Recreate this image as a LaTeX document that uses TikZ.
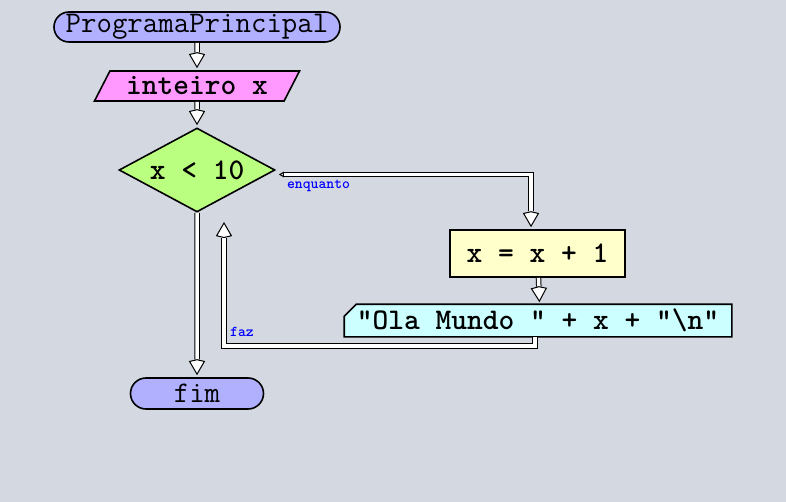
\documentclass[tikz,border=0pt]{standalone}
\usepackage{fontspec}
\usetikzlibrary{shapes.geometric, shapes.misc, arrows.meta, calc, backgrounds}

\definecolor{bg}{RGB}{212,216,224}
\definecolor{lavender}{RGB}{176,176,255}
\definecolor{pink}{RGB}{255,153,255}
\definecolor{lime}{RGB}{187,255,128}
\definecolor{cream}{RGB}{255,255,204}
\definecolor{aqua}{RGB}{204,255,255}
\definecolor{labelblue}{RGB}{0,0,255}

\tikzset{
	base/.style = {draw, line width = 1.6pt, inner sep = 0pt,
		font = \ttfamily\bfseries\fontsize{30}{34}\selectfont},
	terminal/.style = {base, rounded rectangle, fill = lavender,
		font = \ttfamily\fontsize{30}{34}\selectfont},
	decl/.style = {base, trapezium, trapezium left angle = 50, trapezium right angle = 130,
		trapezium stretches body, fill = pink},
	cond/.style = {base, diamond, aspect = 1.86, fill = lime},
	proc/.style = {base, rectangle, fill = cream},
	output/.style = {base, rectangle, draw = none},
	flow/.style = {double = white, double distance = 3.5pt, line width = 1pt, ->,
		shorten > = 2pt},
	>={Stealth[open, fill = white, length = 14pt, width = 16pt, inset = -2pt]},
	flowlabel/.style = {text = labelblue, inner sep = 0pt,
		font = \ttfamily\bfseries\fontsize{15}{17}\selectfont}
}

\begin{document}
\begin{tikzpicture}[x = 1pt, y = -1pt]
	\node [terminal, minimum width = 286pt, minimum height = 30pt] (prog) at (197,27) {ProgramaPrincipal};
	\node [decl, minimum width = 205pt, minimum height = 30pt] (var x) at (197,86) {inteiro x};
	\node [cond, minimum width = 156pt, minimum height = 84pt] (test) at (197,170) {x < 10};
	\node [proc, minimum width = 175pt, minimum height = 47pt] (incr) at (537.5,253.5) {x = x + 1};
	\node [output, minimum width = 386pt, minimum height = 31pt] (print) at (538,320.5) {"Ola Mundo " + x + "\textbackslash n"};
	\node [terminal, minimum width = 133pt, minimum height = 31pt] (fim) at (197,393.5) {fim};
	
	% background and the output box with its cut corner
	\begin{scope}[on background layer]
		\fill [bg] (0,0) rectangle (786,502);
		\draw [line width = 1.6pt, fill = aqua] ([yshift = -12pt]print.north west) -- ([xshift = 12pt]print.north west)
			-- (print.north east) -- (print.south east) -- (print.south west) -- cycle;
	\end{scope}
	
	\coordinate (loop start) at ([xshift = 3pt, yshift = -4.5pt]test.east);
	\coordinate (loop corner) at (224,346);
	\coordinate (loop top) at (224,222);
	
	\draw [flow] (prog) -- (var x);
	\draw [flow] (var x) -- (test);
	\draw [flow, {Triangle[open, fill = white, length = 5pt, width = 5.5pt]}->] (loop start) -| ([xshift = -6.5pt]incr.north);
	\draw [flow] (incr) -- ([xshift = 1.5pt]print.north);
	\draw [flow, shorten > = 0pt] ([xshift = -3pt]print.south) |- (loop corner) -- (loop top);
	\draw [flow] (test) -- (fim);
	
	\node [flowlabel, anchor = north west] (enquanto) at ([xshift = 8pt, yshift = -5pt]loop start) {enquanto};
	\node [flowlabel, anchor = south west] (faz) at ([xshift = 6pt, yshift = 9pt]loop corner) {faz};
\end{tikzpicture}
\end{document}
